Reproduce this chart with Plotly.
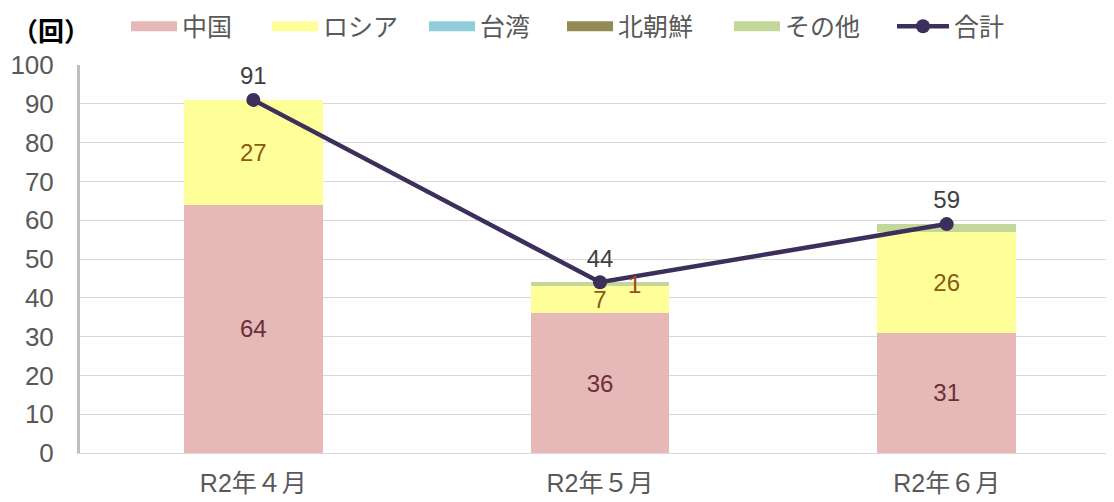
import plotly.graph_objects as go

categories = ["R2年４月", "R2年５月", "R2年６月"]
china = [64, 36, 31]
russia = [27, 7, 26]
taiwan = [0, 0, 0]
nkorea = [0, 0, 0]
other = [0, 1, 2]
total = [91, 44, 59]

series_names = ["中国", "ロシア", "台湾", "北朝鮮", "その他"]
series_colors = ["#e6b8b7", "#ffff99", "#92cddc", "#948a54", "#c4d79b"]
label_colors = ["#6a3038", "#8a5a10", "#333333", "#333333", "#8a5a10"]

FONT = "Liberation Sans, Noto Sans CJK JP, sans-serif"
JFONT = "Noto Sans CJK JP, sans-serif"

# legend entry left positions (px in figure)
legend_x = [118, 259, 416, 554, 721, 884]
legend_ids = ["legend", "legend2", "legend3", "legend4", "legend5", "legend6"]

fig = go.Figure()
series_values = [china, russia, taiwan, nkorea, other]
for i, (name, vals, col, lc) in enumerate(zip(series_names, series_values, series_colors, label_colors)):
    show_text = name in ("中国", "ロシア")
    fig.add_trace(go.Bar(
        x=categories, y=vals, name=name, legendgroup=name, showlegend=False,
        marker=dict(color=col, line=dict(width=0)),
        text=[str(v) if (show_text and v > 0) else "" for v in vals],
        textposition="inside", insidetextanchor="middle", textangle=0,
        constraintext="none", cliponaxis=False,
        textfont=dict(size=24, color=lc, family=FONT),
        hoverinfo="skip",
    ))
    # legend proxy: thick line looks like a wide rectangle swatch
    fig.add_trace(go.Scatter(
        x=[None], y=[None], name=name, legendgroup=name, mode="lines",
        line=dict(color=col, width=13), legend=legend_ids[i],
    ))

fig.add_trace(go.Scatter(
    x=categories, y=total, name="合計", mode="lines+markers+text",
    line=dict(color="#3d2f5b", width=4.5),
    marker=dict(size=14, color="#3d2f5b"),
    text=[str(v) for v in total], textposition="top center",
    textfont=dict(size=24, color="#404040", family=FONT),
    legend="legend6",
))

# label for その他 (1) in 5月
base = [c + r for c, r in zip(china, russia)]
fig.add_annotation(x=categories[1], y=base[1] + other[1], text=str(other[1]),
                   showarrow=False, xshift=34, yshift=-2,
                   font=dict(size=24, color="#a0481c", family=FONT))

fig.add_annotation(x=-0.067, y=1.145, xref="paper", yref="paper",
                   text="<b>（回）</b>", showarrow=False, xanchor="left", yanchor="top",
                   font=dict(size=26, color="#000000", family=JFONT))

legend_common = dict(orientation="h", yanchor="middle", xanchor="left",
                     xref="container", yref="container", y=0.963,
                     font=dict(size=25, color="#595959", family=JFONT),
                     bgcolor="rgba(0,0,0,0)")
layout_legends = {}
for i, lid in enumerate(legend_ids):
    d = dict(legend_common)
    d["x"] = legend_x[i] / 1114
    d["itemwidth"] = 52 if i == 5 else 46
    layout_legends[lid] = d

fig.update_layout(
    width=1114, height=502,
    barmode="stack", bargap=0.6,
    plot_bgcolor="white", paper_bgcolor="white",
    margin=dict(l=72, r=2, t=57, b=57, autoexpand=False),
    font=dict(family=FONT, color="#595959", size=20),
    showlegend=True,
    **layout_legends,
)
fig.update_xaxes(showgrid=False, showline=True, linecolor="#d9d9d9", linewidth=1,
                 tickfont=dict(size=25, color="#595959", family=FONT), ticks="",
                 ticklabelstandoff=8)
fig.update_yaxes(range=[0, 100], dtick=10, showgrid=True, gridcolor="#d9d9d9", gridwidth=1,
                 showline=True, linecolor="#bfbfbf", linewidth=3, ticks="",
                 tickfont=dict(size=26, color="#595959", family=FONT), zeroline=False,
                 ticklabelstandoff=18)

fig.write_html("out.html")
